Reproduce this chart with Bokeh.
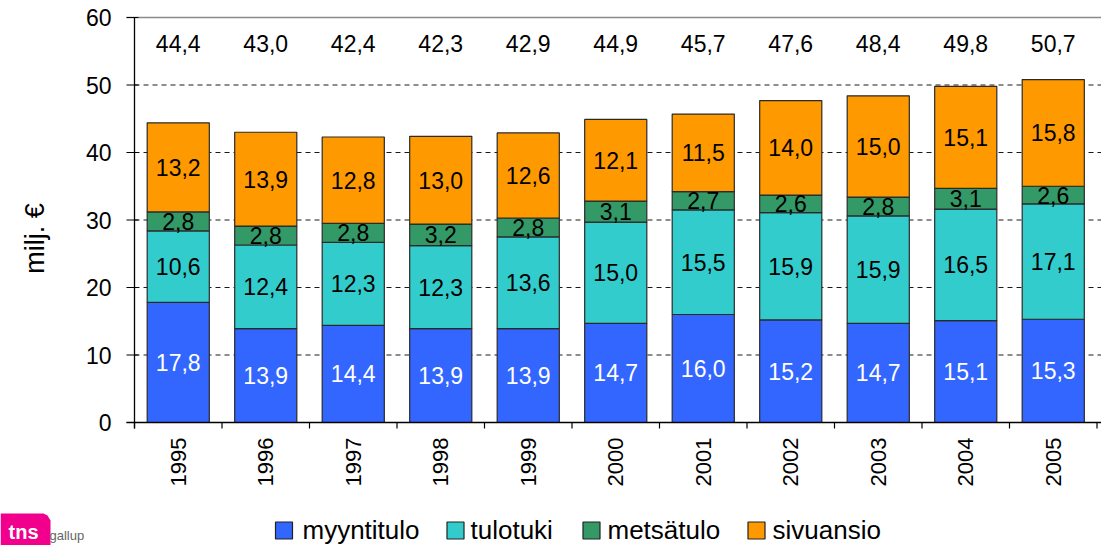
import math
from bokeh.plotting import figure
from bokeh.models import Range1d, ColumnDataSource
from bokeh.core.properties import value
from bokeh.embed import file_html
from bokeh.resources import INLINE

# ---------------- data ----------------
years = ["1995", "1996", "1997", "1998", "1999", "2000", "2001", "2002", "2003", "2004", "2005"]
myyntitulo = [17.8, 13.9, 14.4, 13.9, 13.9, 14.7, 16.0, 15.2, 14.7, 15.1, 15.3]
tulotuki = [10.6, 12.4, 12.3, 12.3, 13.6, 15.0, 15.5, 15.9, 15.9, 16.5, 17.1]
metsatulo = [2.8, 2.8, 2.8, 3.2, 2.8, 3.1, 2.7, 2.6, 2.8, 3.1, 2.6]
sivuansio = [13.2, 13.9, 12.8, 13.0, 12.6, 12.1, 11.5, 14.0, 15.0, 15.1, 15.8]
totals = [44.4, 43.0, 42.4, 42.3, 42.9, 44.9, 45.7, 47.6, 48.4, 49.8, 50.7]
series_names = ["myyntitulo", "tulotuki", "metsätulo", "sivuansio"]
y_ticks = [0, 10, 20, 30, 40, 50, 60]
y_title = "milj. €"

colors = ["#3366FF", "#33CCCC", "#339966", "#FF9900"]
label_colors = ["white", "black", "black", "black"]
FONT = "Liberation Sans"

W, H = 1101, 545
# frame covers the whole canvas; layout helpers (pixel -> data)
X_LEFT_PX, CAT_PX = 134.0, 87.5
Y_ZERO_PX, UNIT_PX = 422.0, 6.75


def dx(px):
    return -0.5 + (px - X_LEFT_PX) / CAT_PX


def dy(py):
    return (Y_ZERO_PX - py) / UNIT_PX


xs = list(range(len(years)))
series = [myyntitulo, tulotuki, metsatulo, sivuansio]

p = figure(width=W, height=H, output_backend="svg", toolbar_location=None,
           x_range=Range1d(dx(0), dx(W)), y_range=Range1d(dy(H), dy(0)),
           x_axis_location=None, y_axis_location=None, min_border=0)
p.outline_line_color = None
p.xgrid.visible = False
p.ygrid.visible = False
p.background_fill_color = "white"
p.border_fill_color = "white"

# gridlines (dashed) at ticks between 0 and top; top line solid grey
grid_vals = [t for t in y_ticks if 0 < t < max(y_ticks)]
p.segment(x0=[-0.5] * len(grid_vals), x1=[dx(W)] * len(grid_vals), y0=grid_vals, y1=grid_vals,
          line_color="#1a1a1a", line_dash="5 4", line_width=1)
p.segment(x0=[dx(126)], x1=[dx(W)], y0=[max(y_ticks)], y1=[max(y_ticks)],
          line_color="#8a8a8a", line_width=1.5)

# bars
src = ColumnDataSource(dict(x=xs, **{n: v for n, v in zip(series_names, series)}))
p.vbar_stack(series_names, x="x", width=0.71, source=src,
             fill_color=colors, line_color="#2a2a2a", line_width=1.2)

# segment labels
for i, vals in enumerate(series):
    bottoms = [sum(s[j] for s in series[:i]) for j in range(len(years))]
    mids = [b + v / 2 for b, v in zip(bottoms, vals)]
    texts = [f"{v:.1f}".replace(".", ",") for v in vals]
    p.text(x=xs, y=mids, text=texts, text_align="center", text_baseline="middle",
           text_font=value(FONT), text_font_size="23px", text_color=label_colors[i])

# totals on top
p.text(x=xs, y=[dy(43)] * len(xs), text=[f"{v:.1f}".replace(".", ",") for v in totals],
       text_align="center", text_baseline="middle", text_font=value(FONT),
       text_font_size="23px", text_color="black")

# y axis
p.segment(x0=[-0.5], x1=[-0.5], y0=[dy(428)], y1=[max(y_ticks)], line_color="black", line_width=1.3)
p.segment(x0=[dx(126)] * len(y_ticks), x1=[dx(138)] * len(y_ticks), y0=y_ticks, y1=y_ticks,
          line_color="black", line_width=1.2)
p.text(x=[-0.5] * len(y_ticks), y=y_ticks, text=[str(t) for t in y_ticks], x_offset=-23,
       text_align="right", text_baseline="middle", text_font=value(FONT),
       text_font_size="23px", text_color="black")
p.text(x=[dx(34)], y=[dy(238)], text=[y_title], angle=math.pi / 2, text_align="center",
       text_baseline="middle", text_font=value(FONT), text_font_size="27px", text_color="black")

# x axis
p.segment(x0=[dx(126)], x1=[dx(W)], y0=[0], y1=[0], line_color="black", line_width=1.3)
bounds = [i + 0.5 for i in range(-1, len(xs))]
p.segment(x0=bounds, x1=bounds, y0=[0] * len(bounds), y1=[dy(428)] * len(bounds),
          line_color="black", line_width=1.2)
p.text(x=xs, y=[dy(437)] * len(xs), text=years, angle=math.pi / 2, text_align="right",
       text_baseline="middle", text_font=value(FONT), text_font_size="22px", text_color="black")

# legend (manual)
sq_px = [283.5, 455.0, 591.0, 756.0]
txt_px = [302.0, 470.0, 607.0, 772.0]
p.scatter(x=[dx(v) for v in sq_px], y=[dy(530)] * 4, marker="square", size=17,
          fill_color=colors, line_color="#222222", line_width=1.2)
p.text(x=[dx(v) for v in txt_px], y=[dy(529)] * 4, text=series_names, text_align="left",
       text_baseline="middle", text_font=value(FONT), text_font_size="26px", text_color="black")

# logo
p.patch(x=[dx(v) for v in [0, 0, 43, 47, 50, 50]], y=[dy(v) for v in [545, 513, 513, 515, 520, 545]],
        fill_color="#F0008C", line_color=None)
p.text(x=[dx(8)], y=[dy(531)], text=["tns"], text_align="left", text_baseline="middle",
       text_font=value(FONT), text_font_size="20px", text_font_style="bold", text_color="white")
p.text(x=[dx(49)], y=[dy(535)], text=["gallup"], text_align="left", text_baseline="middle",
       text_font=value(FONT), text_font_size="13px", text_color="#666666")

open("out.html", "w").write(file_html(p, INLINE))
